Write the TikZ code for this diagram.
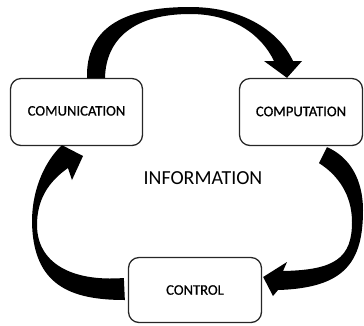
\documentclass[tikz,border=0pt]{standalone}
\usepackage{fontspec}
\setmainfont{Carlito}
\newfontfamily\stagefont{Carlito}[FakeBold=0.6]
\usetikzlibrary{calc}

\tikzset{
  stage/.style={draw=black!85, line width=1.1pt, rounded corners=9pt,
    minimum width=3.96cm, minimum height=2.01cm,
    font=\stagefont\fontsize{12.5}{14}\selectfont},
  flow/.style={fill=black, draw=none}
}

\begin{document}
\begin{tikzpicture}[x=0.03cm, y=-0.03cm]
  \useasboundingbox (0,0) rectangle (364,325);

  \node[stage] (com) at (76.5,112) {\raisebox{2pt}{COMUNICATION}};
  \node[stage, minimum width=3.69cm] (cmp) at (301,112) {\raisebox{1pt}{COMPUTATION}};
  \node[stage, minimum width=3.99cm, minimum height=1.95cm] (ctl) at (195,290) {CONTROL};
  \node[font=\fontsize{17}{20}\selectfont] (info) at (203,178.5) {INFORMATION};

  % com -> cmp, over the top
  \fill[flow] ($(com.north)+(10.5,0)$) .. controls (86,30) and (120,7) .. (190,7)
    .. controls (245,7) and (280,33) .. (293,61) -- (302,61)
    -- ($(cmp.north)+(-14,0)$) -- (264,61) -- (274,61)
    .. controls (262,36) and (235,14) .. (190,14)
    .. controls (135,14) and (106,38) .. ($(com.north)+(28.5,0)$) -- cycle;

  % cmp -> ctl, down the right side
  \fill[flow] ($(cmp.south)+(26,1)$) .. controls (350,157) and (363,180) .. (363,210)
    .. controls (363,262) and (345,288) .. (278,290) -- (273,296)
    -- ($(ctl.east)+(1,-13)$) -- (287,262) -- (283,271)
    .. controls (335,270) and (352,258) .. (352,222)
    .. controls (352,195) and (338,175) .. ($(cmp.south)+(18,17)$) -- cycle;

  % ctl -> com, up the left side
  \fill[flow] ($(ctl.west)+(-3,10)$) .. controls (70,300) and (33,285) .. (32,222)
    .. controls (32,185) and (48,158) .. ($(com.south)+(-14.5,-1)$)
    -- (83,156) -- (72,180) -- (68,168)
    .. controls (48,182) and (37,200) .. (37,225)
    .. controls (37,262) and (70,282) .. ($(ctl.west)+(-4,-12)$) -- cycle;
\end{tikzpicture}
\end{document}
